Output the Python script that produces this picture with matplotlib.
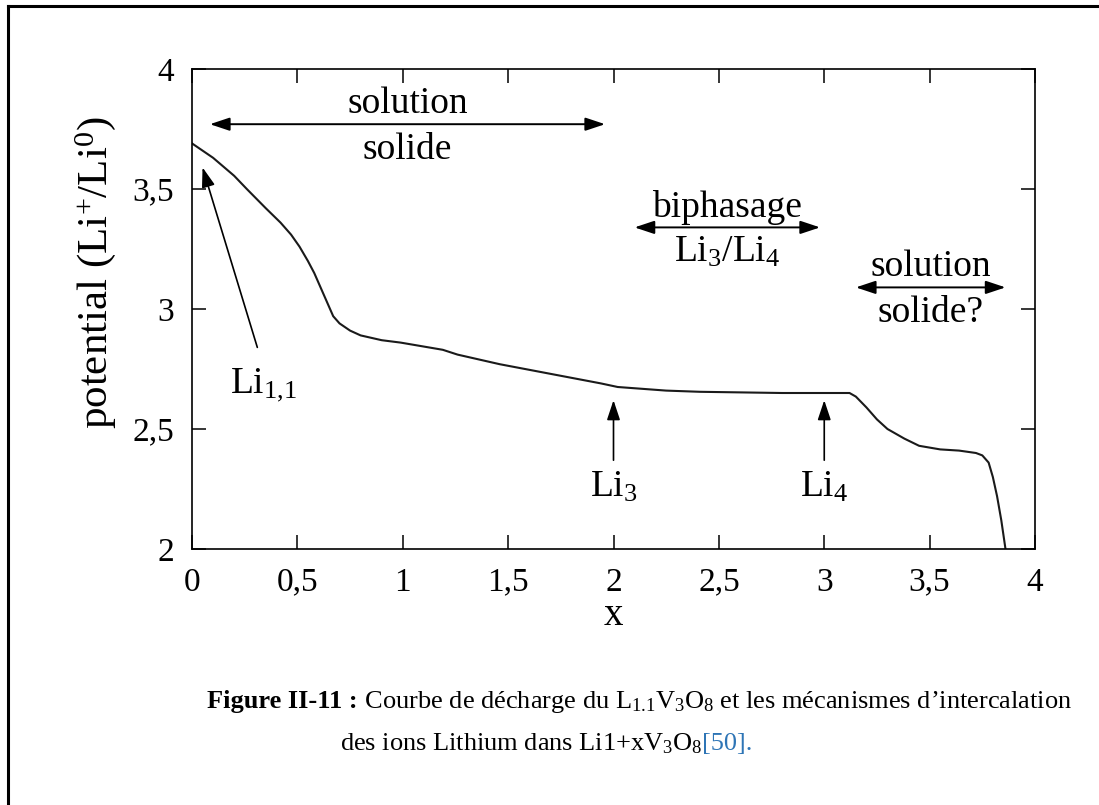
import matplotlib
matplotlib.use("Agg")
import matplotlib.pyplot as plt
from matplotlib.lines import Line2D

plt.rcParams["font.family"] = ["Liberation Serif", "DejaVu Serif"]
plt.rcParams["mathtext.fontset"] = "custom"
plt.rcParams["mathtext.rm"] = "Liberation Serif"
plt.rcParams["mathtext.it"] = "Liberation Serif:italic"
plt.rcParams["mathtext.bf"] = "Liberation Serif:bold"

# Discharge curve of Li(1+x)V3O8
x = [0, 0.1, 0.2, 0.26, 0.35, 0.42, 0.47, 0.51, 0.55, 0.58, 0.61, 0.64, 0.67,
     0.70, 0.75, 0.80, 0.90, 0.99, 1.19, 1.26, 1.46, 1.70, 1.94, 2.02, 2.25,
     2.41, 2.80, 3.12, 3.15, 3.20, 3.25, 3.30, 3.38, 3.45, 3.55, 3.64, 3.72,
     3.75, 3.78, 3.80, 3.82, 3.84, 3.86]
potential = [3.69, 3.63, 3.555, 3.50, 3.42, 3.36, 3.31, 3.26, 3.20, 3.15, 3.09, 3.03, 2.97,
             2.94, 2.91, 2.89, 2.87, 2.86, 2.83, 2.81, 2.77, 2.73, 2.69, 2.675, 2.66,
             2.655, 2.65, 2.65, 2.635, 2.59, 2.54, 2.50, 2.46, 2.43, 2.415, 2.41, 2.40,
             2.39, 2.36, 2.30, 2.22, 2.12, 2.0]

xticks = [0, 0.5, 1, 1.5, 2, 2.5, 3, 3.5, 4]
xtick_labels = ["0", "0,5", "1", "1,5", "2", "2,5", "3", "3,5", "4"]
yticks = [2, 2.5, 3, 3.5, 4]
ytick_labels = ["2", "2,5", "3", "3,5", "4"]

# domains: (text above, text below, x start, x end, arrow y)
domains = [
    ("solution", "solide", 0.085, 1.96, 3.77),
    ("biphasage", r"Li$_3$/Li$_4$", 2.10, 2.98, 3.34),
    ("solution", "solide?", 3.15, 3.86, 3.09),
]
# phases: (label, arrow tail, arrow head, label position)
phases = [
    (r"Li$_{1{,}1}$", (0.31, 2.84), (0.05, 3.59), (0.34, 2.76)),
    (r"Li$_3$", (2.0, 2.37), (2.0, 2.62), (2.0, 2.33)),
    (r"Li$_4$", (3.0, 2.37), (3.0, 2.62), (3.0, 2.33)),
]

fig = plt.figure(figsize=(10.99, 8.05), dpi=100)
ax = fig.add_axes([192 / 1099, 1 - 549 / 805, (1035 - 192) / 1099, (549 - 69) / 805])

ax.plot(x, potential, color="#1a1a1a", lw=1.5)

ax.set_xlim(0, 4)
ax.set_ylim(2, 4)
ax.set_xticks(xticks, xtick_labels)
ax.set_yticks(yticks, ytick_labels)
ax.tick_params(direction="in", length=10, width=1.1, top=True, right=True,
               labelsize=24, pad=13)
for s in ax.spines.values():
    s.set_linewidth(1.2)
ax.set_xlabel("x", fontsize=28)
ax.set_ylabel(r"potential (Li$^{+}$/Li$^{0}$)", fontsize=31)
ax.xaxis.set_label_coords(0.5, -0.10)
ax.yaxis.set_label_coords(-0.088, 0.575)

arrow2 = dict(arrowstyle="<|-|>,head_length=0.6,head_width=0.2", color="black",
              lw=1.4, shrinkA=0, shrinkB=0, mutation_scale=20)
for top, bottom, x0, x1, ya in domains:
    ax.annotate("", xy=(x1, ya), xytext=(x0, ya), arrowprops=arrow2)
    xm = (x0 + x1) / 2
    ax.text(xm, ya + 0.085, top, ha="center", va="center", fontsize=27)
    ax.text(xm, ya - 0.105, bottom, ha="center", va="center", fontsize=27)

arrow1 = dict(arrowstyle="-|>,head_length=0.6,head_width=0.2", color="black",
              lw=1.2, shrinkA=0, shrinkB=0, mutation_scale=20)
for label, tail, head, pos in phases:
    ax.annotate("", xy=head, xytext=tail, arrowprops=arrow1)
    ax.text(pos[0], pos[1], label, ha="center", va="top", fontsize=27)

# outer frame (top and left edges)
fig.add_artist(Line2D([8 / 1099, 8 / 1099], [0, 1 - 6.5 / 805], color="black", lw=2.2))
fig.add_artist(Line2D([8 / 1099, 1], [1 - 6.5 / 805, 1 - 6.5 / 805], color="black", lw=2.2))

# caption, laid out run by run along a baseline
fig.canvas.draw()
renderer = fig.canvas.get_renderer()


def run(pieces, x0, y0):
    xp = x0
    for s, kw in pieces:
        t = fig.text(xp / 1099, 1 - y0 / 805, s, ha="left", va="baseline", fontsize=19, **kw)
        xp += t.get_window_extent(renderer).width


run([("Figure II-11 :", dict(fontweight="bold")),
     (" Courbe de décharge du L$_{1.1}$V$_3$O$_8$ et les mécanismes d\u2019intercalation", {})],
    207, 708)
run([("des ions Lithium dans Li1+xV$_3$O$_8$", {}),
     ("[50].", dict(color="#2e75b6"))],
    340, 750)

fig.savefig("out.png", dpi=100)
